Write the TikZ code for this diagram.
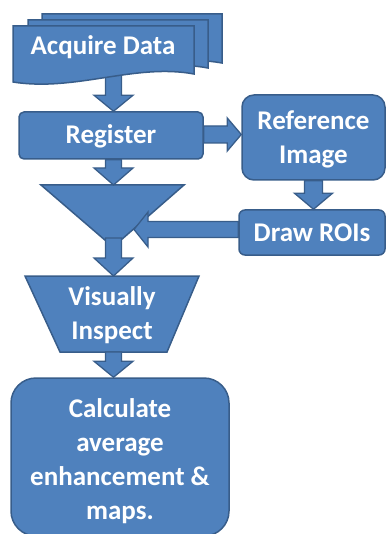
\documentclass[tikz,border=0pt]{standalone}
\usepackage{fontspec}
\setmainfont{Carlito}
\usetikzlibrary{calc}
\definecolor{boxfill}{HTML}{4F81BD}
\definecolor{boxline}{HTML}{385D8A}
\tikzset{
  blk/.style={fill=boxfill, draw=boxline, line width=1.5pt},
  lbl/.style={text=white, font=\bfseries\fontsize{27}{34}\selectfont, align=center},
  fatarrow/.style={fill=boxfill, draw=boxline, line width=1.3pt, line join=miter},
}
\newcommand\fatarr[5]{%
  \coordinate (fh) at ($(#5)!#3pt!(#4)$);
  \draw[fatarrow] ($(#4)!#1pt!90:(#5)$) -- ($(fh)!#1pt!90:(#5)$) -- ($(fh)!#2pt!90:(#5)$) -- (#5)
    -- ($(fh)!#2pt!-90:(#5)$) -- ($(fh)!#1pt!-90:(#5)$) -- ($(#4)!#1pt!-90:(#5)$) -- cycle;}
\begin{document}
\begin{tikzpicture}[x=1pt,y=-1pt]
\useasboundingbox (0,0) rectangle (385,534);
\coordinate (ax) at (113.5,0);
% nodes
\node[blk, rounded corners=5pt, minimum width=184pt, minimum height=47pt, inner sep=0pt] (reg) at (111,135.5) {};
\node[lbl] at ($(reg.center)+(0,1)$) {Register};
\node[blk, rounded corners=12pt, minimum width=143pt, minimum height=85pt, inner sep=0pt] (ref) at (313.5,137.5) {};
\node[lbl] at ($(ref.center)+(0,1.5)$) {Reference\\Image};
\node[blk, rounded corners=6pt, minimum width=146pt, minimum height=45pt, inner sep=0pt] (rois) at (312,232.5) {};
\node[lbl] at (rois.center) {Draw ROIs};
% merge triangle
\coordinate (trileft) at (41,185);
\coordinate (triright) at (184,185);
\coordinate (tritip) at (113,247);
\coordinate (tritop) at (113.5,185);
\draw[blk, line join=miter] (trileft) -- (triright) -- (tritip) -- cycle;
% manual operation trapezoid
\coordinate (vtl) at (25,276);
\coordinate (vtr) at (199,276);
\coordinate (vbr) at (167,352);
\coordinate (vbl) at (60,352);
\coordinate (vistop) at (113.5,276);
\coordinate (visbot) at (113.5,352);
\draw[blk, line join=miter] (vtl) -- (vtr) -- (vbr) -- (vbl) -- cycle;
\node[lbl] (vis) at (112,315) {Visually\\Inspect};
% calculate box
\node[blk, rounded corners=25pt, minimum width=218pt, minimum height=158pt, inner sep=0pt] (calc) at (120,457) {};
\node[lbl] at ($(calc.center)+(0,4.5)$) {Calculate\\average\\enhancement \&\\maps.};
% arrow from documents (drawn first, documents cover its start)
\coordinate (a1s) at (113.5,70);
\coordinate (a1e) at (reg.north -| ax);
\fatarr{8}{19.5}{16}{a1s}{a1e}
% multidocument
\draw[blk] (42,14) -- (222,14) -- (222,63) .. controls (160,52) and (100,80) .. (42,70) -- cycle;
\draw[blk] (28,20) -- (208,20) -- (208,68) .. controls (150,57) and (90,86) .. (28,76) -- cycle;
\draw[blk] (13,26) -- (194,26) -- (194,74) .. controls (135,63) and (75,92) .. (13,82) -- cycle;
\node[lbl] (acq) at (103,47) {Acquire Data};
% other arrows
\coordinate (a2s) at ($(reg.east)+(0,-1)$);
\coordinate (a2e) at (a2s -| ref.west);
\fatarr{8.5}{16.5}{14}{a2s}{a2e}
\coordinate (a3s) at (ref.south);
\coordinate (a3e) at (ref.south |- rois.north);
\fatarr{9}{19}{16}{a3s}{a3e}
\coordinate (a4s) at ($(rois.west)+(0,-3)$);
\coordinate (a4e) at (134,229.5);
\fatarr{8}{17.5}{14}{a4s}{a4e}
\coordinate (a5s) at (reg.south -| ax);
\fatarr{8}{19.5}{17}{a5s}{tritop}
\coordinate (a6s) at (113.5,238);
\fatarr{8}{19.5}{18}{a6s}{vistop}
\coordinate (a7e) at (calc.north -| ax);
\fatarr{8}{19.5}{16}{visbot}{a7e}
\end{tikzpicture}
\end{document}
